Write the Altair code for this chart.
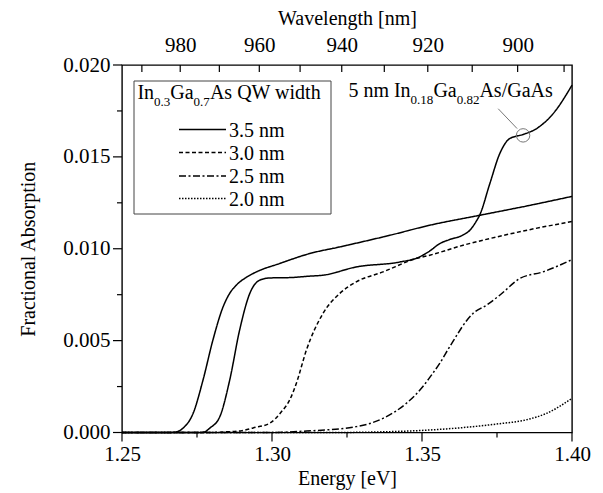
import altair as alt
import pandas as pd

FONT = "Liberation Serif"

# ---------------- data ----------------
E_35 = [1.250, 1.266, 1.268, 1.2703, 1.2737, 1.2770, 1.2803, 1.2837, 1.2860, 1.2881,
        1.2915, 1.2948, 1.3026, 1.3126, 1.3226, 1.3392, 1.3526, 1.3692, 1.3859, 1.400]
A_35 = [0.0, 0.0, 0.00003, 0.00023, 0.00104, 0.00285, 0.00503, 0.00684, 0.00760, 0.00802,
        0.00845, 0.00874, 0.00920, 0.00974, 0.01010, 0.01073, 0.01128, 0.01182, 0.01236, 0.01285]

E_30 = [1.250, 1.280, 1.2826, 1.2900, 1.2937, 1.2992, 1.3030, 1.3059, 1.3081, 1.3115,
        1.3170, 1.3226, 1.3281, 1.3370, 1.3481, 1.3526, 1.3637, 1.3748, 1.3859, 1.400]
A_30 = [0.0, 0.0, 0.00002, 0.00010, 0.00025, 0.00050, 0.00110, 0.00177, 0.00267, 0.00450,
        0.00648, 0.00757, 0.00820, 0.00874, 0.00947, 0.00965, 0.01019, 0.01064, 0.01104, 0.01148]

E_25 = [1.250, 1.300, 1.3115, 1.3281, 1.3370, 1.3448, 1.3503, 1.3526, 1.3559, 1.3592,
        1.3670, 1.3715, 1.3759, 1.3826, 1.3903, 1.400]
A_25 = [0.0, 0.0, 0.00008, 0.00032, 0.00077, 0.00159, 0.00250, 0.00300, 0.00376, 0.00466,
        0.00648, 0.00693, 0.00747, 0.00838, 0.00874, 0.00941]

E_20 = [1.250, 1.320, 1.3400, 1.3559, 1.3748, 1.3850, 1.3915, 1.400]
A_20 = [0.0, 0.0, 0.00005, 0.00017, 0.00046, 0.00070, 0.00104, 0.00186]

E_REF = [1.250, 1.276, 1.2775, 1.2792, 1.2826, 1.2859, 1.2892, 1.2926, 1.2959, 1.2992,
         1.3059, 1.3126, 1.3170, 1.3281, 1.3426, 1.3487, 1.3526, 1.3559, 1.3592, 1.3637,
         1.3659, 1.3681, 1.3692, 1.3726, 1.3759, 1.3792, 1.3837, 1.3881, 1.3937, 1.400]
A_REF = [0.0, 0.0, 0.00003, 0.00023, 0.00086, 0.00285, 0.00557, 0.00757, 0.00829, 0.00841,
         0.00843, 0.00851, 0.00856, 0.00901, 0.00928, 0.00952, 0.00988, 0.01028, 0.01050, 0.01075,
         0.01100, 0.01150, 0.01182, 0.01354, 0.01517, 0.01599, 0.01622, 0.01653, 0.01735, 0.01890]

series_names = ["3.5 nm", "3.0 nm", "2.5 nm", "2.0 nm", "5 nm In0.18Ga0.82As/GaAs"]
series_E = [E_35, E_30, E_25, E_20, E_REF]
series_A = [A_35, A_30, A_25, A_20, A_REF]
series_dash = [[1, 0], [4, 2.5], [7, 2.5, 2, 2.5], [1.5, 1.5], [1, 0]]

legend_labels = ["3.5 nm", "3.0 nm", "2.5 nm", "2.0 nm"]

energy_major = [1.25, 1.30, 1.35, 1.40]
energy_minor = [1.275, 1.325, 1.375]
absorption_major = [0.0, 0.005, 0.010, 0.015, 0.020]
absorption_minor = [0.0025, 0.0075, 0.0125, 0.0175]
wavelength_major = [980, 960, 940, 920, 900]
wavelength_minor = [990, 970, 950, 930, 910, 890]
HC = 1240.0
WL_SHIFT = 0.0041  # offset of the top axis as drawn in the original figure

marker_E = [1.3837]
marker_A = [0.01617]
leader_E = [1.3754, 1.3817]
leader_A = [0.01762, 0.01654]

rows = []
for name, es, as_ in zip(series_names, series_E, series_A):
    for e, a in zip(es, as_):
        rows.append({"E": e, "A": a, "series": name})
df = pd.DataFrame(rows)

W, H = 450, 367.5
E_DOM = [1.25, 1.40]
A_DOM = [0.0, 0.02]
xscale = alt.Scale(domain=E_DOM, nice=False, zero=False)
yscale = alt.Scale(domain=A_DOM, nice=False, zero=False)
PX_E = (E_DOM[1] - E_DOM[0]) / W   # energy units per pixel
PX_A = (A_DOM[1] - A_DOM[0]) / H   # absorption units per pixel

common_axis = dict(labelFont=FONT, titleFont=FONT, labelFontSize=21, titleFontSize=20,
                   titleFontWeight="normal", labelColor="black", titleColor="black",
                   grid=False, ticks=False, domain=False,
                   labelOverlap=False, labelFlush=False)

bottom_axis = alt.Axis(
    orient="bottom", values=energy_major, title="Energy [eV]", format=".2f",
    labelPadding=11, titlePadding=4, **common_axis)

left_axis = alt.Axis(
    orient="left", values=absorption_major, title="Fractional Absorption", format=".3f",
    labelPadding=12, titlePadding=24, **common_axis)

top_major_E = [HC / w + WL_SHIFT for w in wavelength_major]
top_minor_E = [HC / w + WL_SHIFT for w in wavelength_minor]
wl_expr = f"round({HC}/(datum.value-{WL_SHIFT}))"
top_axis = alt.Axis(
    orient="top", values=top_major_E, title="Wavelength [nm]",
    labelExpr=f"format({wl_expr}, 'd')",
    labelPadding=10, titlePadding=6, **common_axis)

lines = alt.Chart(df).mark_line(color="black", strokeWidth=1.5, interpolate="monotone").encode(
    x=alt.X("E:Q", scale=xscale, axis=bottom_axis),
    y=alt.Y("A:Q", scale=yscale, axis=left_axis),
    strokeDash=alt.StrokeDash("series:N",
                              scale=alt.Scale(domain=series_names, range=series_dash),
                              legend=None),
)

top_layer = alt.Chart(pd.DataFrame({"E": [1.25, 1.40]})).mark_point(opacity=0).encode(
    x=alt.X("E:Q", scale=xscale, axis=top_axis),
)

# tick segments (drawn through the same scales)
tick_rows = []
for e in energy_major:
    tick_rows.append({"E": e, "E2": e, "A": A_DOM[0], "A2": A_DOM[0] - 9 * PX_A})
for e in energy_minor:
    tick_rows.append({"E": e, "E2": e, "A": A_DOM[0], "A2": A_DOM[0] - 5 * PX_A})
for a in absorption_major:
    tick_rows.append({"E": E_DOM[0], "E2": E_DOM[0] - 9 * PX_E, "A": a, "A2": a})
for a in absorption_minor:
    tick_rows.append({"E": E_DOM[0], "E2": E_DOM[0] - 5 * PX_E, "A": a, "A2": a})
for e in top_major_E + top_minor_E:
    tick_rows.append({"E": e, "E2": e, "A": A_DOM[1], "A2": A_DOM[1] - 7 * PX_A})
ticks_df = pd.DataFrame(tick_rows)

ticks = alt.Chart(ticks_df).mark_rule(color="black", strokeWidth=1.2, clip=False).encode(
    x=alt.X("E:Q", scale=xscale, axis=None), x2="E2:Q",
    y=alt.Y("A:Q", scale=yscale, axis=None), y2="A2:Q",
)

marker = alt.Chart(pd.DataFrame({"E": marker_E, "A": marker_A})).mark_point(
    shape="circle", size=180, filled=False, stroke="#777777", strokeWidth=1, opacity=1
).encode(
    x=alt.X("E:Q", scale=xscale, axis=None),
    y=alt.Y("A:Q", scale=yscale, axis=None),
)

leader = alt.Chart(pd.DataFrame({"E": [leader_E[0]], "E2": [leader_E[1]],
                                 "A": [leader_A[0]], "A2": [leader_A[1]]})).mark_rule(
    color="#777777", strokeWidth=1
).encode(
    x=alt.X("E:Q", scale=xscale, axis=None), x2="E2:Q",
    y=alt.Y("A:Q", scale=yscale, axis=None), y2="A2:Q",
)

one = pd.DataFrame({"k": [0]})


def text_piece(txt, x, y, size):
    return alt.Chart(one).mark_text(
        text=txt, font=FONT, fontSize=size, align="left", baseline="alphabetic", color="black"
    ).encode(x=alt.value(x), y=alt.value(y))


# annotation "5 nm In0.18Ga0.82As/GaAs"
ann_pieces = [("5 nm In", 226.4, False), ("0.18", 288.6, True), ("Ga", 311.4, False),
              ("0.82", 334.7, True), ("As/GaAs", 357.4, False)]
ann_layers = [text_piece(t, x, 39 if s else 32, 13 if s else 20) for t, x, s in ann_pieces]

# legend box
legend_box = alt.Chart(one).mark_rect(fill="white", stroke="#444444", strokeWidth=1).encode(
    x=alt.value(12), x2=alt.value(209), y=alt.value(16), y2=alt.value(149))

title_pieces = [("In", 15.4, False), ("0.3", 32.1, True), ("Ga", 48.3, False),
                ("0.7", 71.6, True), ("As QW width", 87.9, False)]
legend_layers = [text_piece(t, x, 41 if s else 34, 13 if s else 20) for t, x, s in title_pieces]

row_y = [64.5, 87.5, 111, 133.5]
for lab, ry, dash in zip(legend_labels, row_y, series_dash[:4]):
    legend_layers.append(
        alt.Chart(one).mark_rule(color="black", strokeWidth=1.5, strokeDash=dash).encode(
            x=alt.value(57), x2=alt.value(104), y=alt.value(ry)))
    legend_layers.append(
        alt.Chart(one).mark_text(text=lab, font=FONT, fontSize=20, align="left",
                                 baseline="middle", color="black").encode(
            x=alt.value(107), y=alt.value(ry + 1)))

chart = alt.layer(
    lines, top_layer, ticks, marker, leader, *ann_layers, legend_box, *legend_layers
).resolve_axis(x="independent", y="independent").properties(
    width=W, height=H, background="white",
    autosize=alt.AutoSizeParams(type="none"),
    padding={"left": 114, "top": 57, "right": 23, "bottom": 60},
).configure_view(stroke="black", strokeWidth=1.4)

chart.save("out.html", embed_options={"renderer": "svg", "actions": False})
